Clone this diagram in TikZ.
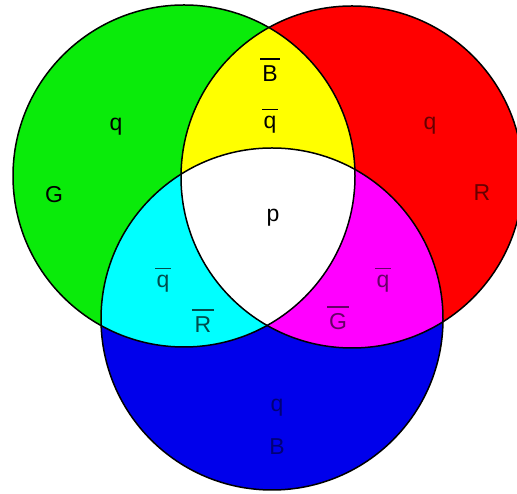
\documentclass[tikz,border=0pt]{standalone}
\usepackage{fontspec}
\setmainfont{Liberation Sans}
\definecolor{cgreen}{RGB}{10,235,10}
\definecolor{cred}{RGB}{255,0,0}
\definecolor{cblue}{RGB}{0,0,235}
\definecolor{cyellow}{RGB}{255,255,0}
\definecolor{ccyan}{RGB}{0,255,255}
\definecolor{cmagenta}{RGB}{255,0,255}
\newcommand{\antilbl}[2][16pt]{\vbox{\offinterlineskip
  \halign{\hfil##\hfil\cr\rule{#1}{1.8pt}\cr\noalign{\vskip6pt}#2\cr}}}
\tikzset{
  ring/.style={draw=black,line width=1.5pt},
  lbl/.style={font=\fontsize{23}{23}\selectfont,inner sep=0pt}
}
\begin{document}
\begin{tikzpicture}[x=1pt,y=1pt]
\useasboundingbox (0,0) rectangle (517,494);
\clip (0,0) rectangle (517,494);

\coordinate (g) at (184,318);
\coordinate (r) at (352,317);
\coordinate (b) at (272,175);
\def\rad{171}

\fill[cgreen] (g) circle (\rad);
\fill[cred] (r) circle (\rad);
\fill[cblue] (b) circle (\rad);
\begin{scope}
  \clip (g) circle (\rad);
  \fill[cyellow] (r) circle (\rad);
  \fill[ccyan] (b) circle (\rad);
\end{scope}
\begin{scope}
  \clip (r) circle (\rad);
  \fill[cmagenta] (b) circle (\rad);
  \clip (g) circle (\rad);
  \fill[white] (b) circle (\rad);
\end{scope}
\foreach \c in {g,r,b}
  \draw[ring] (\c) circle (\rad);

\node[lbl] (gq) at (116,367) {q};
\node[lbl] (gG) at (54,299) {G};
\node[lbl] (yB) at (270,424) {\antilbl[20pt]{B}};
\node[lbl] (yq) at (270,373) {\antilbl{q}};
\node[lbl,text=cred!40!black] (rq) at (430,368) {q};
\node[lbl,text=cred!40!black] (rR) at (482,301) {R};
\node[lbl] (wp) at (273,276) {p};
\node[lbl,text=ccyan!30!black] (cq) at (163,214) {\antilbl{q}};
\node[lbl,text=ccyan!30!black] (cR) at (203,173) {\antilbl[22pt]{R}};
\node[lbl,text=cmagenta!40!black] (mq) at (383,214) {\antilbl{q}};
\node[lbl,text=cmagenta!40!black] (mG) at (338,176) {\antilbl[22pt]{G}};
\node[lbl,text=cblue!50!black] (bq) at (277,86) {q};
\node[lbl,text=cblue!50!black] (bB) at (277,47) {B};
\end{tikzpicture}
\end{document}
